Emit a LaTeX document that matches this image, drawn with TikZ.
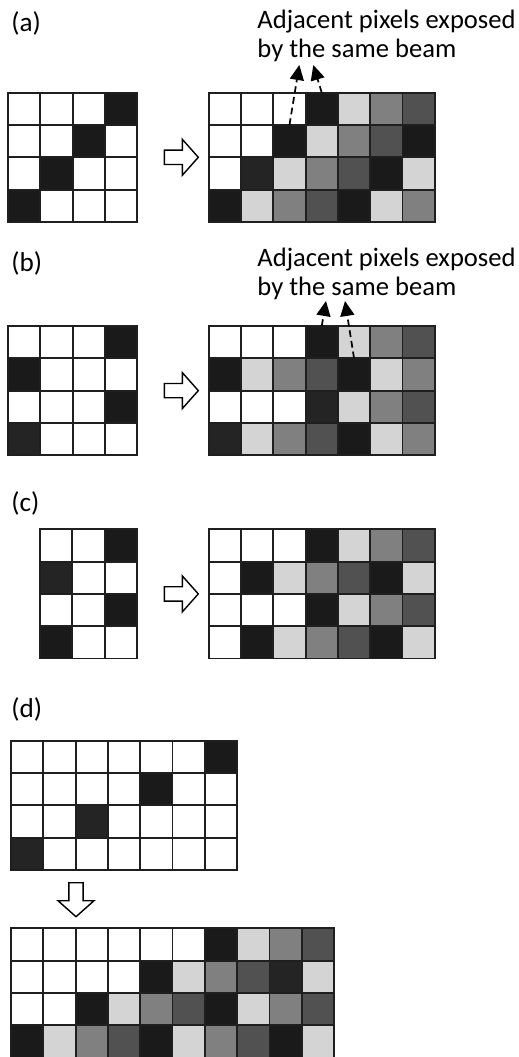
\documentclass[tikz,border=0pt]{standalone}
\usepackage{fontspec}
\setmainfont{Carlito}
\usetikzlibrary{arrows.meta}

% tonos de los pixeles
\definecolor{pxW}{HTML}{FFFFFF}
\definecolor{pxB}{HTML}{1A1A1A}
\definecolor{pxK}{HTML}{242424}
\definecolor{pxL}{HTML}{D4D4D4}
\definecolor{pxM}{HTML}{808080}
\definecolor{pxD}{HTML}{515151}

% rejilla: nombre, x, y (esquina superior izquierda), filas
\newcommand{\pixgrid}[4]{%
  \foreach \row [count=\r from 0] in {#4} {
    \foreach \c [count=\k from 0] in \row {
      \node[pix, fill=px\c] (#1-\r-\k) at ({#2+(\k+0.5)*32.3},{#3+(\r+0.5)*32.3}) {};
    }
  }
}

\begin{document}
\begin{tikzpicture}[x=0.5pt, y=-0.5pt,
    pix/.style={draw=black!88, line width=0.9pt, minimum size=16.15pt, inner sep=0pt, outer sep=0pt},
    tag/.style={font=\fontsize{13.6}{15}\selectfont, inner sep=0pt, anchor=base west},
    note/.style={font=\fontsize{13.3}{14.4}\selectfont, inner sep=0pt, align=left, anchor=base west},
    beam/.style={line width=0.85pt, dash pattern=on 3.4pt off 2pt, -{Triangle[length=7.5pt, width=7pt]}},
    hollow/.pic={\draw[line width=0.7pt, fill=white] (0,-7.15) -- (18,-7.15) -- (18,-18) -- (34,0) -- (18,18) -- (18,7.15) -- (0,7.15) -- cycle;}
]
\useasboundingbox (0,0) rectangle (519,1057);

% (a)
\node[tag] (labA) at (11,31.7) {(a)};
\node[note] (noteA) at (257,57.5) {Adjacent pixels exposed\\by the same beam};
\pixgrid{aL}{8}{92.7}{{W,W,W,B},{W,W,B,W},{W,B,W,W},{B,W,W,W}}
\pixgrid{aR}{208.7}{92.7}{{W,W,W,B,L,M,D},{W,W,B,L,M,D,B},{W,K,L,M,D,B,L},{B,L,M,D,B,L,M}}
\pic at (164.3,157.3) {hollow};
\coordinate (aTip1) at (299.3,65);
\coordinate (aTip2) at (313.3,65);
\draw[beam] (aR-1-2.north) -- (aTip1);
\draw[beam] (aR-0-3.north) -- (aTip2);

% (b)
\node[tag] (labB) at (11,271.7) {(b)};
\node[note] (noteB) at (257,295) {Adjacent pixels exposed\\by the same beam};
\pixgrid{bL}{8}{326}{{W,W,W,B},{B,W,W,W},{W,W,W,B},{K,W,W,W}}
\pixgrid{bR}{208.7}{326}{{W,W,W,B,L,M,D},{B,L,M,D,B,L,M},{W,W,W,K,L,M,D},{K,L,M,D,B,L,M}}
\pic at (164.3,390.6) {hollow};
\coordinate (bTip1) at (326,301);
\coordinate (bTip2) at (345,301);
\draw[beam] (bR-0-3.north) -- (bTip1);
\draw[beam] (bR-1-4.north) -- (bTip2);

% (c)
\node[tag] (labC) at (11,511.5) {(c)};
\pixgrid{cL}{40}{529.3}{{W,W,B},{K,W,W},{W,W,B},{B,W,W}}
\pixgrid{cR}{208.7}{529.3}{{W,W,W,B,L,M,D},{W,B,L,M,D,B,L},{W,W,W,B,L,M,D},{W,B,L,M,D,B,L}}
\pic at (164.3,593.9) {hollow};

% (d)
\node[tag] (labD) at (11,717) {(d)};
\pixgrid{dT}{11}{740.7}{{W,W,W,W,W,W,B},{W,W,W,W,B,W,W},{W,W,K,W,W,W,W},{K,W,W,W,W,W,W}}
\pixgrid{dB}{11}{928.3}{{W,W,W,W,W,W,B,L,M,D},{W,W,W,W,B,L,M,D,K,L},{W,W,B,L,M,D,B,L,M,D},{B,L,M,D,B,L,M,D,B,L}}
\pic[rotate=-90] at (76,882.7) {hollow};

\end{tikzpicture}
\end{document}
